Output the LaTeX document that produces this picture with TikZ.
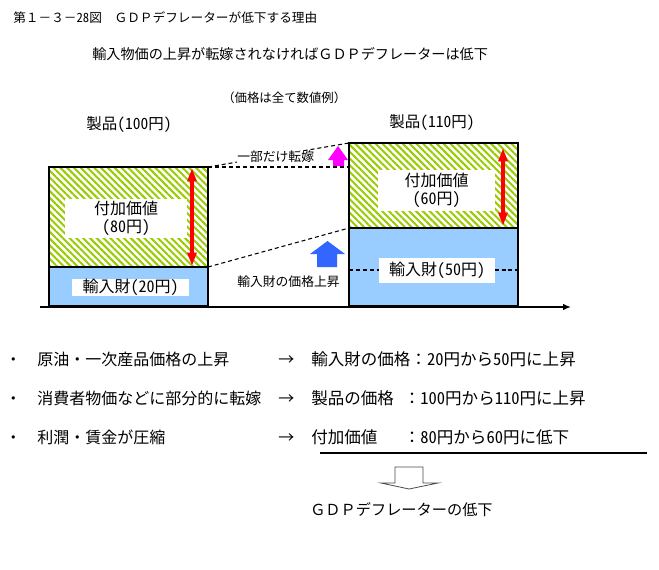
\documentclass[tikz,border=0pt]{standalone}
\usepackage{fontspec}
\setmainfont{Noto Sans CJK JP}
\usetikzlibrary{arrows.meta,patterns.meta}

\definecolor{hatchgreen}{RGB}{153,204,0}
\definecolor{importblue}{RGB}{153,204,255}
\definecolor{risemagenta}{RGB}{255,0,255}
\definecolor{riseblue}{RGB}{51,102,255}

% half-width digits and brackets
\newcommand{\hd}[1]{{\addfontfeature{RawFeature=+hwid}#1}}

\tikzset{
  txt/.style={inner sep=0pt,anchor=west},
  boxline/.style={draw=black,line width=1.5pt},
  hatched/.style={pattern={Lines[angle=-45,distance=3.6pt,line width=1.5pt]},pattern color=hatchgreen},
  whitelabel/.style={fill=white,inner sep=0pt,align=center,font=\fontsize{12}{13.5}\selectfont},
  guide/.style={dash pattern=on 3pt off 2.2pt,line width=0.8pt},
  valarrow/.style={red,line width=2.8pt,{Triangle[length=10pt,width=6.5pt]}-{Triangle[length=10pt,width=6.5pt]}},
  listitem/.style={inner sep=0pt,anchor=base west,font=\fontsize{12}{14}\selectfont},
  listresult/.style={listitem,font=\fontsize{12.4}{14}\selectfont}
}

\begin{document}
\begin{tikzpicture}[x=0.75pt,y=-0.75pt]
    \useasboundingbox[fill=white] (0,0) rectangle (659,569);

    % Titles
    \node[txt,font=\fontsize{9.5}{11}\selectfont] (title) at (13,18) {第１－３－\hd{28}図　ＧＤＰデフレーターが低下する理由};
    \node[txt,font=\fontsize{10.6}{12}\selectfont] (subtitle) at (92,54) {輸入物価の上昇が転嫁されなければＧＤＰデフレーターは低下};
    \node[txt,font=\fontsize{9.3}{11}\selectfont] (note) at (222,98) {（価格は全て数値例）};

    % Product labels
    \node[inner sep=0pt,font=\fontsize{11.6}{13}\selectfont] (prod100) at (129,125) {製品\hd{(100}円\hd{)}};
    \node[inner sep=0pt,font=\fontsize{11.6}{13}\selectfont] (prod110) at (432,123) {製品\hd{(110}円\hd{)}};

    % Left bar (100 yen)
    \fill[importblue] (49,267) rectangle (208,306);
    \fill[white] (49,167) rectangle (208,267);
    \fill[hatched] (49,167) rectangle (208,267);
    \node[whitelabel,minimum width=91.5pt,minimum height=29pt] (lval) at (126,218.5) {付加価値\\\hd{(80}円\hd{)}};
    \node[whitelabel,minimum width=88pt,minimum height=13pt] (limp) at (130.5,287.5) {輸入財\hd{(20}円\hd{)}};
    \draw[boxline] (49,167) rectangle (208,306);
    \draw[boxline] (49,267) -- (208,267);
    \coordinate (ltop) at (208,167);
    \coordinate (lmid) at (208,267);
    \draw[valarrow] (192,168) -- (192,266);

    % Right bar (110 yen)
    \fill[importblue] (349,228) rectangle (518,306);
    \draw[guide] (349,270) -- (518,270);
    \fill[white] (349,143) rectangle (518,228);
    \fill[hatched] (349,143) rectangle (518,228);
    \node[whitelabel,minimum width=88pt,minimum height=31pt] (rval) at (436.5,190.5) {付加価値\\\hd{(60}円\hd{)}};
    \node[whitelabel,minimum width=87pt,minimum height=19pt] (rimp) at (437,270.5) {輸入財\hd{(50}円\hd{)}};
    \draw[boxline] (349,143) rectangle (518,306);
    \draw[boxline] (349,228) -- (518,228);
    \coordinate (rtop) at (349,143);
    \coordinate (rold) at (349,167);
    \coordinate (rmid) at (349,228);
    \draw[valarrow] (503,148) -- (503,226);

    % Dashed guides between bars
    \draw[guide] (ltop) -- (rold);
    \draw[guide] (ltop) -- (rtop);
    \draw[guide] (lmid) -- (rmid);

    % Rise arrows and their labels
    \fill[risemagenta] (333,166) -- (333,160) -- (328,160) -- (338,146) -- (348,160) -- (344,160) -- (344,166) -- cycle;
    \fill[riseblue] (317,267) -- (317,254) -- (310,254) -- (327.5,241) -- (345,254) -- (337,254) -- (337,267) -- cycle;
    \node[txt,fill=white,font=\fontsize{9.6}{11}\selectfont] (partial) at (237,157) {一部だけ転嫁};
    \node[txt,font=\fontsize{9.6}{11}\selectfont] (importrise) at (237,282) {輸入財の価格上昇};

    % Axis
    \draw[line width=1.5pt,-{Latex[length=6pt,width=5pt]}] (40,307) -- (571,307);

    % Summary list
    \foreach \y/\cause/\effect in {365/原油・一次産品価格の上昇/輸入財の価格：\hd{20}円から\hd{50}円に上昇,
                                     404/消費者物価などに部分的に転嫁/製品の価格\hspace{0.6em}：\hd{100}円から\hd{110}円に上昇,
                                     443/利潤・賃金が圧縮/付加価値\hspace{1.6em}：\hd{80}円から\hd{60}円に低下} {
      \node[listitem] at (5,\y) {・};
      \node[listitem] at (37,\y) {\cause};
      \node[listitem] at (278,\y) {→};
      \node[listresult] at (311,\y) {\effect};
    }
    \draw[line width=1.5pt] (320,453) -- (647,453);

    % Conclusion
    \draw[line width=0.6pt,draw=black!70] (395,467) -- (423,467) -- (423,483) -- (438,483) -- (409,489) -- (381,483) -- (395,483) -- cycle;
    \node[txt,font=\fontsize{11.4}{13}\selectfont] (result) at (310,510) {ＧＤＰデフレーターの低下};
\end{tikzpicture}
\end{document}
